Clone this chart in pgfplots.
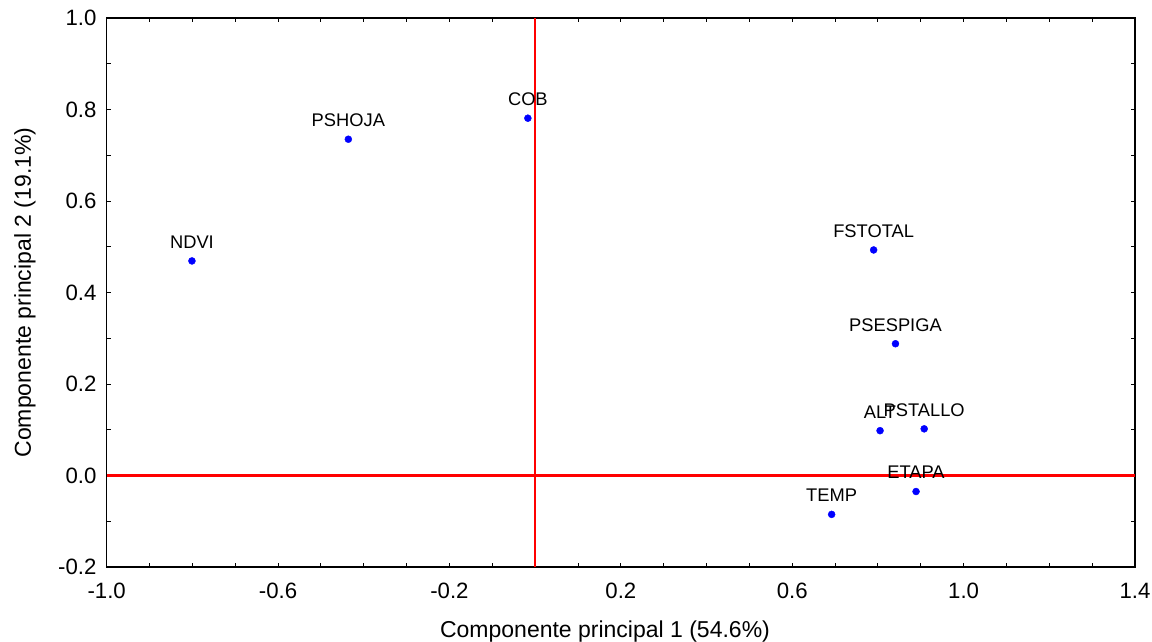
\documentclass[border=0pt]{standalone}
\usepackage{pgfplots}
\pgfplotsset{compat=1.18}
\usepackage{fontspec}
\setmainfont{Liberation Sans}
\pgfplotstableread{
x y label
-0.801 0.469 NDVI
-0.436 0.735 PSHOJA
-0.017 0.781 COB
0.790 0.493 FSTOTAL
0.841 0.288 PSESPIGA
0.805 0.098 ALT
0.908 0.102 PSTALLO
0.889 -0.035 ETAPA
0.692 -0.085 TEMP
}\pcadata
\begin{document}
\begin{tikzpicture}
\path[use as bounding box] (-106.7pt,-74pt) rectangle (1045.3pt,567pt);
\begin{axis}[
  at={(0pt,0pt)}, anchor=south west,
  scale only axis, width=1028.3pt, height=549pt,
  xmin=-1, xmax=1.4, ymin=-0.2, ymax=1.0,
  xtick={-1,-0.6,-0.2,0.2,0.6,1.0,1.4},
  xticklabels={-1.0,-0.6,-0.2,0.2,0.6,1.0,1.4},
  ytick={-0.2,0,0.2,0.4,0.6,0.8,1.0},
  yticklabels={-0.2,0.0,0.2,0.4,0.6,0.8,1.0},
  minor x tick num=3, minor y tick num=1,
  tick align=inside, tick pos=both,
  major tick length=4pt, minor tick length=4pt,
  tick style={black, line width=1pt},
  axis line style={black, line width=1.3pt},
  xticklabel style={font=\fontsize{22.2}{24}\selectfont, inner sep=0pt, anchor=north, yshift=-16pt},
  yticklabel style={font=\fontsize{22.2}{24}\selectfont, inner sep=0pt, anchor=east, xshift=-10pt},
  xlabel={Componente principal 1 (54.6\%)},
  ylabel={Componente principal 2 (19.1\%)},
  xlabel style={font=\fontsize{23}{26}\selectfont, at={(axis description cs:0.4846,0)}, anchor=base, yshift=-70pt, inner sep=0pt},
  ylabel style={font=\fontsize{23}{26}\selectfont, at={(axis description cs:0,0.5)}, anchor=center, rotate=0, yshift=81.7pt, inner sep=0pt},
  clip=false,
]
\addplot[red, line width=2.2pt, forget plot] coordinates {(0,-0.2) (0,1.0)};
\addplot[red, line width=2.2pt, forget plot] coordinates {(-1,0) (1.4,0)};
\addplot[only marks, mark=*, mark size=3.5pt, blue, mark options={draw=blue, fill=blue},
  nodes near coords, point meta=explicit symbolic,
  nodes near coords style={anchor=base, yshift=12.6pt, inner sep=0pt, text=black, font=\fontsize{18.3}{20}\selectfont}]
  table[x=x, y=y, meta=label] {\pcadata};
\end{axis}
\end{tikzpicture}
\end{document}
